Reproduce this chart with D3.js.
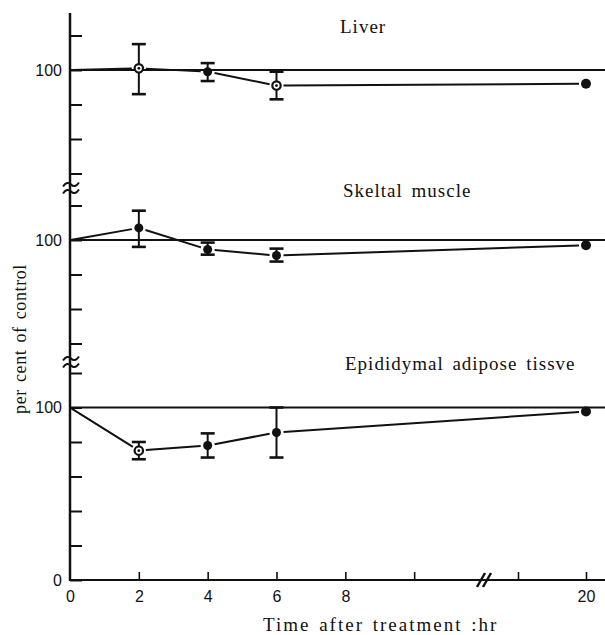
<!DOCTYPE html>
<html>
<head>
<meta charset="utf-8">
<script src="https://cdn.jsdelivr.net/npm/d3@7"></script>
<style>
  html, body { margin: 0; padding: 0; background: #fff; }
  svg { display: block; }
  .num { font-family: "Liberation Sans Narrow", "Liberation Sans", Arial, sans-serif; font-size: 16px; fill: #111; }
  .ser { font-family: "Liberation Serif", "Times New Roman", serif; fill: #111; }
</style>
</head>
<body>
<svg id="chart" width="605" height="635"></svg>
<script>
// ---------- data ----------
const times = [0, 2, 4, 6, 20];
const panelTitles = ["Liver", "Skeltal muscle", "Epididymal adipose tissve"];

const liverMean   = [100, 101, 99, 91, 92];
const liverLow    = [null, 86, 93.6, 83, null];
const liverHigh   = [null, 115, 104, 99, null];

const muscleMean  = [100, 107, 94.5, 91, 97];
const muscleLow   = [null, 96, 91.5, 87.5, null];
const muscleHigh  = [null, 117, 98.5, 95, null];

const adiposeMean = [100, 75, 78, 85.5, 97.7];
const adiposeLow  = [null, 70, 71, 71, null];
const adiposeHigh = [null, 80, 85, 100, null];

const xTickValues = [0, 2, 4, 6, 8, 10, 18, 20];
const xTickLabels = { 0: "0", 2: "2", 4: "4", 6: "6", 8: "8", 20: "20" };
const yTicksUpper = [40, 60, 80, 100, 120];
const yTicksLower = [0, 20, 40, 60, 80, 100, 120];
const yTickLabels = { 100: "100", 0: "0" };
const referenceLevel = 100;
const xTitle = "Time after treatment :hr";
const yTitle = "per cent of control";

// ---------- layout ----------
const svg = d3.select("#chart");
const axisX = 70, baseY = 580, axisTop = 13, rightEdge = 605;

// broken x scale: 0..12 then jump to 17..20
const x = d3.scaleLinear().domain([0, 12, 17, 20]).range([axisX, 483, 484, 586]);

const panels = [
  { title: panelTitles[0], mean: liverMean, low: liverLow, high: liverHigh,
    y: d3.scaleLinear().domain([40, 120]).range([173.5, 35.5]), ticks: yTicksUpper,
    titleX: 340, titleY: 33, open: [2, 6] },
  { title: panelTitles[1], mean: muscleMean, low: muscleLow, high: muscleHigh,
    y: d3.scaleLinear().domain([40, 120]).range([343.5, 205.5]), ticks: yTicksUpper,
    titleX: 343, titleY: 197, open: [] },
  { title: panelTitles[2], mean: adiposeMean, low: adiposeLow, high: adiposeHigh,
    y: d3.scaleLinear().domain([0, 120]).range([baseY, 373]), ticks: yTicksLower,
    titleX: 345, titleY: 370, open: [2] }
];

// ---------- y axes (per panel) ----------
panels.forEach(p => {
  const ax = d3.axisLeft(p.y).tickValues(p.ticks).tickSize(-12).tickPadding(8)
    .tickFormat(d => yTickLabels[d] || "");
  const g = svg.append("g").attr("transform", `translate(${axisX},0)`).call(ax);
  g.select(".domain").remove();
  g.selectAll(".tick line").attr("stroke", "#111").attr("stroke-width", 2);
  g.selectAll(".tick text").attr("class", "num").attr("fill", "#111");
});
// main y axis line
svg.append("line").attr("x1", axisX).attr("x2", axisX).attr("y1", axisTop).attr("y2", baseY + 1)
  .attr("stroke", "#111").attr("stroke-width", 2.5);

// y-axis breaks
[188, 362].forEach(by => {
  [-3.5, 3.5].forEach(off => {
    svg.append("path")
      .attr("d", `M${axisX - 7},${by + off + 2} q4,-6 8,-2 t8,-2`)
      .attr("fill", "none").attr("stroke", "#111").attr("stroke-width", 2);
  });
});

// ---------- x axis ----------
const xAxis = d3.axisBottom(x).tickValues(xTickValues).tickSize(-8).tickPadding(11)
  .tickFormat(d => xTickLabels[d] || "");
const gx = svg.append("g").attr("transform", `translate(0,${baseY})`).call(xAxis);
gx.select(".domain").remove();
gx.selectAll(".tick line").attr("stroke", "#111").attr("stroke-width", 1.6)
  .filter(d => d === 0).remove();
gx.selectAll(".tick text").attr("class", "num").attr("fill", "#111");
svg.append("line").attr("x1", axisX).attr("x2", rightEdge).attr("y1", baseY).attr("y2", baseY)
  .attr("stroke", "#111").attr("stroke-width", 2);
// x break marks
[0, 6].forEach(off => {
  svg.append("line")
    .attr("x1", x(12) - 6 + off).attr("y1", baseY + 7)
    .attr("x2", x(12) + 2 + off).attr("y2", baseY - 7)
    .attr("stroke", "#111").attr("stroke-width", 2.5);
});

// ---------- panels ----------
const trim = 7;
panels.forEach(p => {
  const g = svg.append("g");
  // reference line at 100 %
  g.append("line").attr("x1", axisX).attr("x2", rightEdge)
    .attr("y1", p.y(referenceLevel)).attr("y2", p.y(referenceLevel))
    .attr("stroke", "#111").attr("stroke-width", 2);

  // series segments, with gaps around markers
  for (let i = 0; i < times.length - 1; i++) {
    const x0 = x(times[i]), y0 = p.y(p.mean[i]);
    const x1 = x(times[i + 1]), y1 = p.y(p.mean[i + 1]);
    const len = Math.hypot(x1 - x0, y1 - y0);
    const ux = (x1 - x0) / len, uy = (y1 - y0) / len;
    const s = i === 0 ? 2 : trim;
    g.append("line")
      .attr("x1", x0 + ux * s).attr("y1", y0 + uy * s)
      .attr("x2", x1 - ux * trim).attr("y2", y1 - uy * trim)
      .attr("stroke", "#111").attr("stroke-width", 2);
  }

  // error bars
  times.forEach((t, i) => {
    if (p.low[i] == null) return;
    const cx = x(t);
    g.append("line").attr("x1", cx).attr("x2", cx)
      .attr("y1", p.y(p.low[i])).attr("y2", p.y(p.high[i]))
      .attr("stroke", "#111").attr("stroke-width", 2);
    [p.low[i], p.high[i]].forEach(v => {
      g.append("line").attr("x1", cx - 7).attr("x2", cx + 7)
        .attr("y1", p.y(v)).attr("y2", p.y(v))
        .attr("stroke", "#111").attr("stroke-width", 2.6);
    });
  });

  // markers
  times.forEach((t, i) => {
    if (i === 0) return;
    const cx = x(t), cy = p.y(p.mean[i]);
    if (p.open.includes(t)) {
      g.append("circle").attr("cx", cx).attr("cy", cy).attr("r", 4.2)
        .attr("fill", "#fff").attr("stroke", "#111").attr("stroke-width", 2.2);
      g.append("circle").attr("cx", cx).attr("cy", cy).attr("r", 1.4).attr("fill", "#111");
    } else {
      g.append("circle").attr("cx", cx).attr("cy", cy).attr("r", t === 20 ? 5 : 4.5)
        .attr("fill", "#111");
    }
  });

  // panel title
  svg.append("text").attr("class", "ser")
    .attr("x", p.titleX).attr("y", p.titleY)
    .attr("font-size", 19).attr("letter-spacing", 1).attr("word-spacing", 3)
    .text(p.title);
});

// ---------- axis titles ----------
svg.append("text").attr("class", "ser")
  .attr("x", 263).attr("y", 631)
  .attr("font-size", 19).attr("letter-spacing", 2).attr("word-spacing", 2)
  .text(xTitle);

svg.append("text").attr("class", "ser")
  .attr("transform", "translate(26,339) rotate(-90)")
  .attr("text-anchor", "middle")
  .attr("font-size", 18).attr("letter-spacing", 0.6).attr("word-spacing", 2)
  .text(yTitle);
</script>
</body>
</html>
